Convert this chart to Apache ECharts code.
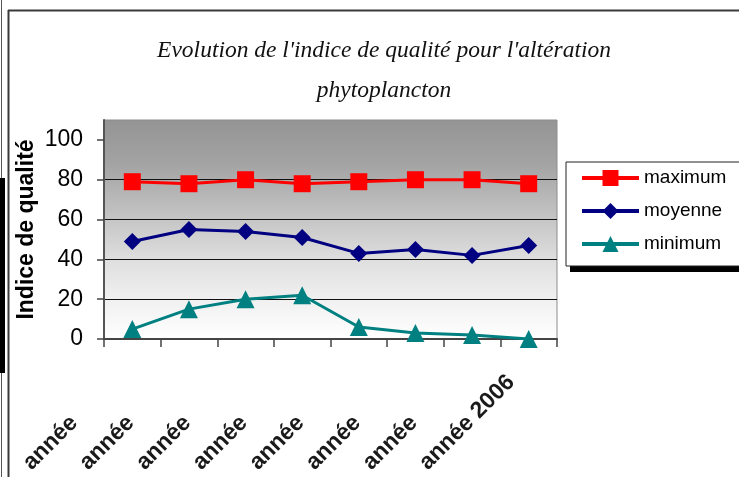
<!DOCTYPE html>
<html><head><meta charset="utf-8">
<script src="https://cdn.jsdelivr.net/npm/echarts@6/dist/echarts.min.js"></script>
<style>html,body{margin:0;padding:0;background:#fff}#c{width:739px;height:477px}</style>
</head><body><div id="c"></div>
<script>
const titleLines = ["Evolution de l'indice de qualité pour l'altération", "phytoplancton"];
const yAxisName = "Indice de qualité";
const categories = ["année 1999", "année 2000", "année 2001", "année 2002", "année 2003", "année 2004", "année 2005", "année 2006"];
const seriesNames = ["maximum", "moyenne", "minimum"];
const maximum = [79, 78, 80, 78, 79, 80, 80, 78];
const moyenne = [49, 55, 54, 51, 43, 45, 42, 47];
const minimum = [5, 15, 20, 22, 6, 3, 2, 0];
const yTicks = [0, 20, 40, 60, 80, 100];

const SANS = "'Liberation Sans', Arial, sans-serif";
const chart = echarts.init(document.getElementById('c'), null, {renderer: 'canvas'});

function mkSeries(name, data, color, symbol, size) {
  return {
    name, type: 'line', data, symbol, symbolSize: size,
    lineStyle: {color, width: 3},
    itemStyle: {color},
    emphasis: {disabled: true},
    animation: false
  };
}

chart.setOption({
  animation: false,
  title: {
    text: titleLines.join('\n'),
    left: 379, top: 26, textAlign: 'center',
    textStyle: {fontFamily: "'Liberation Serif', 'DejaVu Serif', serif", fontStyle: 'italic', fontWeight: 'normal', fontSize: 23.5, lineHeight: 40, color: '#111'}
  },
  grid: {
    left: 104, right: 182, top: 120, bottom: 138,
    show: true, borderColor: '#8c8c8c', borderWidth: 1,
    backgroundColor: {type: 'linear', x: 0, y: 0, x2: 0, y2: 1, colorStops: [
      {offset: 0, color: '#949494'}, {offset: 0.2, color: '#a3a3a3'}, {offset: 0.45, color: '#c5c5c5'},
      {offset: 0.65, color: '#e0e0e0'}, {offset: 0.85, color: '#f3f3f3'}, {offset: 1, color: '#ffffff'}]}
  },
  legend: {
    orient: 'vertical', left: 566, top: 162, z: 5,
    data: seriesNames,
    itemWidth: 57, itemHeight: 20, itemGap: 13,
    padding: [6, 40, 12, 14],
    backgroundColor: '#ffffff', borderColor: '#222', borderWidth: 1,
    lineStyle: {width: 4},
    textStyle: {fontFamily: SANS, fontSize: 19, color: '#000', lineHeight: 20},
    selectedMode: false
  },
  xAxis: {
    type: 'category', data: categories, boundaryGap: true,
    axisLine: {lineStyle: {color: '#444', width: 2}},
    axisTick: {show: true, length: 8, lineStyle: {color: '#444', width: 1.5}},
    axisLabel: {
      interval: 0, rotate: 45, margin: 22, padding: [0, 25, 0, 0],
      formatter: function (value, index) {
        const sp = value.indexOf(' ');
        if (index < categories.length - 1) {
          return '{v|' + value.slice(0, sp) + '}{h|' + value.slice(sp) + '}';
        }
        return '{v|' + value + '}';
      },
      rich: {
        v: {fontFamily: SANS, fontSize: 23, fontWeight: 'bold', color: '#1a1a1a'},
        h: {fontFamily: SANS, fontSize: 23, fontWeight: 'bold', color: 'rgba(0,0,0,0)'}
      }
    },
    splitLine: {show: false}
  },
  yAxis: {
    type: 'value', min: 0, max: 110, interval: 20,
    name: yAxisName, nameLocation: 'middle', nameGap: 66, nameRotate: 90, nameMoveOverlap: false,
    nameTextStyle: {fontFamily: SANS, fontSize: 23, fontWeight: 'bold', color: '#000'},
    axisLine: {show: true, lineStyle: {color: '#555', width: 2}},
    axisTick: {show: true, length: 7, customValues: yTicks, lineStyle: {color: '#444', width: 1.5}},
    axisLabel: {margin: 21, customValues: yTicks, fontFamily: SANS, fontSize: 23, color: '#000'},
    splitLine: {show: true, showMaxLine: false, lineStyle: {color: '#111', width: 1}}
  },
  series: [
    mkSeries(seriesNames[0], maximum, '#ff0000', 'rect', 17),
    mkSeries(seriesNames[1], moyenne, '#000080', 'diamond', 17),
    mkSeries(seriesNames[2], minimum, '#008080', 'triangle', 18)
  ],
  graphic: [
    {type: 'line', shape: {x1: 1.5, y1: 0, x2: 1.5, y2: 477}, style: {stroke: '#555', lineWidth: 1}, silent: true},
    {type: 'rect', shape: {x: 0, y: 178, width: 5, height: 195}, style: {fill: '#000'}, silent: true},
    {type: 'line', shape: {x1: 8.5, y1: 10, x2: 8.5, y2: 477}, style: {stroke: '#3a3a3a', lineWidth: 2}, silent: true},
    {type: 'line', shape: {x1: 8, y1: 10.5, x2: 739, y2: 10.5}, style: {stroke: '#3a3a3a', lineWidth: 2}, silent: true},
    {type: 'rect', z: 0, shape: {x: 570, y: 200, width: 200, height: 72}, style: {fill: '#000'}, silent: true}
  ]
});
</script></body></html>
